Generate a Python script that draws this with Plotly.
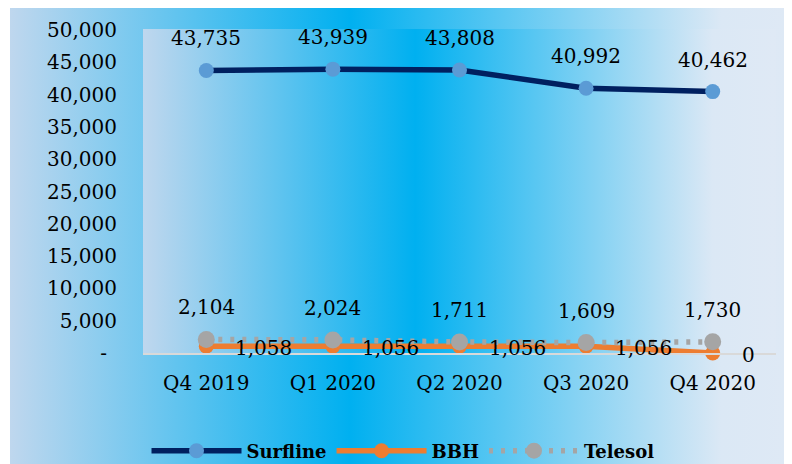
import base64
import plotly.graph_objects as go

# ---- data ----
quarters = ["Q4 2019", "Q1 2020", "Q2 2020", "Q3 2020", "Q4 2020"]
surfline = [43735, 43939, 43808, 40992, 40462]
bbh = [1058, 1056, 1056, 1056, 0]
telesol = [2104, 2024, 1711, 1609, 1730]
y_tick_vals = [0, 5000, 10000, 15000, 20000, 25000, 30000, 35000, 40000, 45000, 50000]
y_tick_text = ["-\u2002", "5,000", "10,000", "15,000", "20,000", "25,000", "30,000",
               "35,000", "40,000", "45,000", "50,000"]

FONT = "DejaVu Serif"
W, H = 792, 464
OFF = 8  # page body margin
L, R, T, B = 143 - OFF, W - (776 - OFF), 30 - OFF, H - (353 - OFF)
PW, PH = W - L - R, H - T - B


def grad_uri():
    svg = ("<svg xmlns='http://www.w3.org/2000/svg' width='200' height='100' "
           "preserveAspectRatio='none' viewBox='0 0 200 100'>"
           "<defs><linearGradient id='g' x1='0' y1='0' x2='1' y2='0'>"
           "<stop offset='0' stop-color='#bfd7ee'/>"
           "<stop offset='0.43' stop-color='#00b0f0'/>"
           "<stop offset='0.9' stop-color='#dbe8f5'/>"
           "<stop offset='1' stop-color='#dfe9f5'/>"
           "</linearGradient></defs>"
           "<rect x='0' y='0' width='200' height='100' fill='url(#g)'/></svg>")
    return "data:image/svg+xml;base64," + base64.b64encode(svg.encode()).decode()


def px_x(p):
    return (p - L) / PW


def px_y(p):
    return (T + PH - p) / PH


fig = go.Figure()

fig.add_trace(go.Scatter(
    x=quarters, y=surfline, name="Surfline", mode="lines+markers",
    line=dict(color="#002060", width=5.5),
    marker=dict(color="#5b9bd5", size=15),
    cliponaxis=False))
fig.add_trace(go.Scatter(
    x=quarters, y=bbh, name="BBH", mode="lines+markers",
    line=dict(color="#ed7d31", width=5.5),
    marker=dict(color="#ed7d31", size=15),
    cliponaxis=False))
fig.add_trace(go.Scatter(
    x=quarters, y=telesol, name="Telesol", mode="lines+markers",
    line=dict(color="#a5a5a5", width=5.5, dash="4px,8px"),
    marker=dict(color="#a5a5a5", size=17),
    cliponaxis=False))

annotations = []
for q, v in zip(quarters, surfline):
    annotations.append(dict(x=q, y=v, text=f"{v:,}", showarrow=False, yshift=32,
                            font=dict(family=FONT, size=20, color="black")))
for q, v in zip(quarters, telesol):
    annotations.append(dict(x=q, y=v, text=f"{v:,}", showarrow=False, yshift=32,
                            font=dict(family=FONT, size=20, color="black")))
for q, v in zip(quarters, bbh):
    annotations.append(dict(x=q, y=v, text=f"{v:,}", showarrow=False, xanchor="left",
                            xshift=27, yshift=-2,
                            font=dict(family=FONT, size=20, color="black")))

uri = grad_uri()
images = [
    dict(source=uri, xref="paper", yref="paper", x=px_x(2), y=px_y(0),
         sizex=px_x(W) - px_x(2), sizey=px_y(0) - px_y(H), xanchor="left",
         yanchor="top", sizing="stretch", layer="below"),
    dict(source=uri, xref="paper", yref="paper", x=0, y=px_y(T - 1),
         sizex=1, sizey=px_y(T - 1), xanchor="left",
         yanchor="top", sizing="stretch", layer="below"),
]

fig.update_layout(
    width=W, height=H,
    margin=dict(l=L, r=R, t=T, b=B, pad=0, autoexpand=False),
    paper_bgcolor="white",
    plot_bgcolor="rgba(0,0,0,0)",
    font=dict(family=FONT, size=20, color="black"),
    images=images,
    annotations=annotations,
    showlegend=True,
    legend=dict(orientation="h", xref="container", yref="container",
                x=395 / W, xanchor="center", y=(H - 443) / H,
                yanchor="middle", bgcolor="rgba(0,0,0,0)",
                font=dict(family=FONT, size=18, color="black", weight="bold"),
                itemwidth=90, tracegroupgap=0),
    xaxis=dict(type="category", range=[-0.5, 4.5], showgrid=False, zeroline=False,
               showline=True, linecolor="#d9d9d9", linewidth=1.5, ticks="",
               ticklabelstandoff=11, tickfont=dict(family=FONT, size=20)),
    yaxis=dict(range=[0, 50000], showgrid=False, zeroline=False, showline=False,
               tickvals=y_tick_vals, ticktext=y_tick_text, ticks="",
               ticklabelstandoff=25, tickfont=dict(family=FONT, size=20)),
)

fig.write_html("out.html")
